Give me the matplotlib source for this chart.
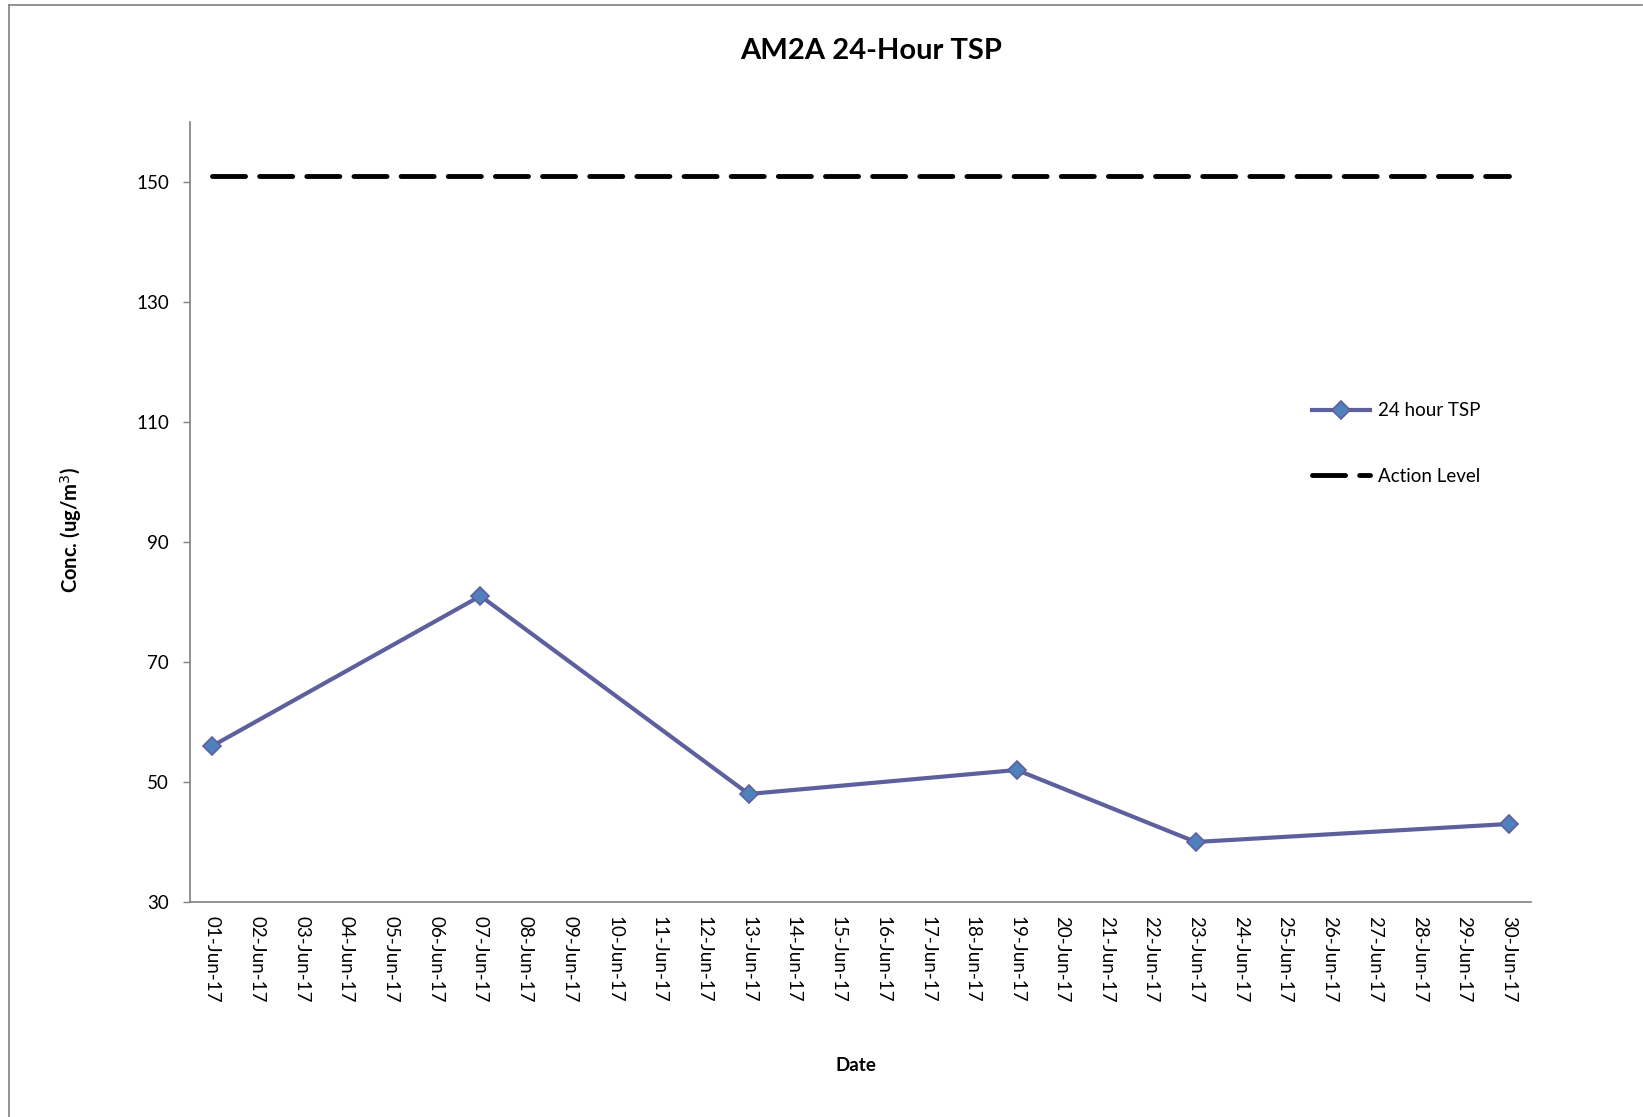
import matplotlib
matplotlib.use("Agg")
import matplotlib.pyplot as plt
from matplotlib.lines import Line2D

plt.rcParams['font.family'] = ['Lato', 'DejaVu Sans']

dates = ["%02d-Jun-17" % d for d in range(1, 31)]
tsp_dates = ["01-Jun-17", "07-Jun-17", "13-Jun-17", "19-Jun-17", "23-Jun-17", "30-Jun-17"]
tsp_values = [56, 81, 48, 52, 40, 43]
action_level = [151] * 30
y_ticks = [30, 50, 70, 90, 110, 130, 150]

fig = plt.figure(figsize=(16.43, 11.17), dpi=100)
ax = fig.add_axes([0.1156, 0.1925, 0.8162, 0.6983])

xpos = {d: i for i, d in enumerate(dates)}
tx = [xpos[d] for d in tsp_dates]

ax.plot(range(len(dates)), action_level, color='black', lw=3.5,
        dashes=(6.8, 2.9), solid_capstyle='butt', dash_capstyle='round', label='Action Level', zorder=2)
ax.plot(tx, tsp_values, color='#5E609E', lw=3.0, marker='D', markersize=9.5,
        markerfacecolor='#4F81BD', markeredgecolor='#5E609E', markeredgewidth=1.2,
        label='24 hour TSP', zorder=3)

ax.set_xlim(-0.5, 29.5)
ax.set_ylim(30, 160)
ax.set_yticks(y_ticks)
ax.set_xticks(range(len(dates)))
ax.set_xticklabels(dates, rotation=270, fontsize=13.5, va='top', ha='center')
ax.tick_params(axis='x', length=0, pad=10)
ax.tick_params(axis='y', labelsize=13.5, length=5, color='#808080', width=1, pad=10)
for s in ['top', 'right']:
    ax.spines[s].set_visible(False)
for s in ['left', 'bottom']:
    ax.spines[s].set_color('#808080')
    ax.spines[s].set_linewidth(1.2)

fig.text(0.530, 0.954, "AM2A 24-Hour TSP", ha='center', va='center', fontsize=21, fontweight='bold')
fig.text(0.043, 0.525, "Conc. (ug/m$^3$)", ha='center', va='center', rotation=90,
         fontsize=14.5, fontweight='bold')
fig.text(0.521, 0.046, "Date", ha='center', va='center', fontsize=13.5, fontweight='bold')

handles, labels = ax.get_legend_handles_labels()
order = [1, 0]
leg = fig.legend([handles[i] for i in order], [labels[i] for i in order],
                 loc='center left', bbox_to_anchor=(0.7986, 0.603), frameon=False,
                 fontsize=13.5, handlelength=3.1, handletextpad=0.4, labelspacing=2.6,
                 borderpad=0, borderaxespad=0)

fig.add_artist(Line2D([9/1643, 9/1643], [0, 1 - 5/1117], transform=fig.transFigure,
                      color='#808080', lw=1.2))
fig.add_artist(Line2D([9/1643, 1642/1643], [1 - 5/1117, 1 - 5/1117], transform=fig.transFigure,
                      color='#808080', lw=1.2))

fig.savefig("out.png", dpi=100)
